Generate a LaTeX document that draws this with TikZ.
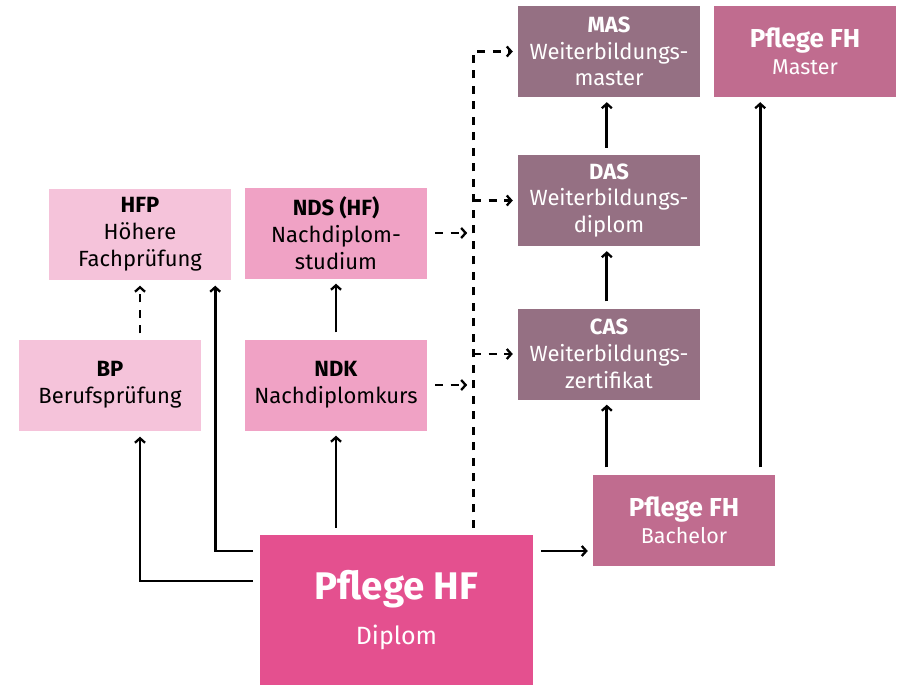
\documentclass[tikz,border=0pt]{standalone}
\usepackage{fontspec}
\setmainfont{Fira Sans}
\usetikzlibrary{arrows.meta,calc}
\definecolor{cMAS}{HTML}{957083}
\definecolor{cFH}{HTML}{C06C8F}
\definecolor{cHF}{HTML}{E4508F}
\definecolor{cLight}{HTML}{F5C3DA}
\definecolor{cMid}{HTML}{F0A2C5}
\tikzset{
  box/.style={rectangle, inner sep=0pt, minimum width=182pt, minimum height=91pt, align=center,
    font=\fontsize{22}{26.8}\selectfont},
  darkbox/.style={box, fill=cMAS, text=white},
  fhbox/.style={box, fill=cFH, text=white},
  lightbox/.style={box, fill=cLight, text=black},
  midbox/.style={box, fill=cMid, text=black},
  arr/.style={line width=2.7pt, -{Straight Barb[length=4.5pt,width=10pt,line width=2.3pt]}, shorten <=7pt, shorten >=5pt},
  dasharr/.style={arr, dash pattern=on 8pt off 7.5pt}
}
\begin{document}
\begin{tikzpicture}[x=1pt,y=-1pt]
\useasboundingbox (0,0) rectangle (901,685);
\node[darkbox] (mas) at (609,51.5) {\textbf{MAS}\\Weiterbildungs-\\master};
\node[fhbox] (fhm) at (805,51.5) {{\fontsize{26}{29}\selectfont\textbf{Pflege FH}}\\{\fontsize{21.5}{26}\selectfont Master}};
\node[darkbox] (das) at (609,200.5) {\textbf{DAS}\\Weiterbildungs-\\diplom};
\node[darkbox] (cas) at (609,354) {\textbf{CAS}\\Weiterbildungs-\\zertifikat};
\node[lightbox] (hfp) at (140,234) {\textbf{HFP}\\Höhere\\Fachprüfung};
\node[midbox] (nds) at (336,233) {\textbf{NDS (HF)}\\Nachdiplom-\\studium};
\node[lightbox] (bp) at (110,385) {\textbf{BP}\\Berufsprüfung};
\node[midbox] (ndk) at (336,385) {\textbf{NDK}\\Nachdiplomkurs};
\node[fhbox] (fhb) at (684,520) {{\fontsize{26}{29}\selectfont\textbf{Pflege FH}}\\{\fontsize{21.5}{26}\selectfont Bachelor}};
\node[box, fill=cHF, text=white, minimum width=273pt, minimum height=150pt,
  font=\fontsize{38.5}{46}\selectfont] (hf) at (396.5,610)
  {\textbf{Pflege HF}\\[-1pt]{\fontsize{25}{30}\selectfont Diplom}};
% solid arrows
\coordinate (h1) at ([yshift=59pt]hf.east);
\draw[arr, shorten <=8pt] (h1) -- (h1 -| fhb.west);
\coordinate (h2) at ([yshift=59pt]hf.west);
\coordinate (t2) at ([xshift=-16pt]hfp.south east);
\draw[arr, shorten >=6pt] (h2) -| (t2);
\coordinate (h3) at ([yshift=29pt]hf.west);
\coordinate (t3) at ([xshift=30pt]bp.south);
\draw[arr, shorten >=6pt] (h3) -| (t3);
\coordinate (t4) at ([xshift=30pt]bp.north);
\draw[dasharr, shorten >=6pt, shorten <=6pt] (t4) -- (t4 |- hfp.south);
\draw[arr] (hf.north -| ndk.south) -- (ndk.south);
\draw[arr] (ndk.north) -- (nds.south);
\coordinate (b1) at ([xshift=14pt]fhb.north west);
\coordinate (b2) at ([xshift=-15pt]fhb.north east);
\draw[arr] (b1) -- (b1 |- cas.south);
\draw[arr] (b1 |- cas.north) -- (b1 |- das.south);
\draw[arr] (b1 |- das.north) -- (b1 |- mas.south);
\draw[arr] (b2) -- (b2 |- fhm.south);
% dashed tree
\coordinate (d0) at ([xshift=-60pt]hf.north east);
\draw[dasharr] (d0) |- (mas.west);
\draw[dasharr, shorten <=0pt] (d0 |- das.west) -- (das.west);
\draw[dasharr, shorten <=0pt] (d0 |- cas.west) -- (cas.west);
\draw[dasharr, shorten <=8pt, shorten >=6pt] (nds.east) -- (nds.east -| d0);
\draw[dasharr, shorten <=8pt, shorten >=6pt] (ndk.east) -- (ndk.east -| d0);
\end{tikzpicture}
\end{document}
